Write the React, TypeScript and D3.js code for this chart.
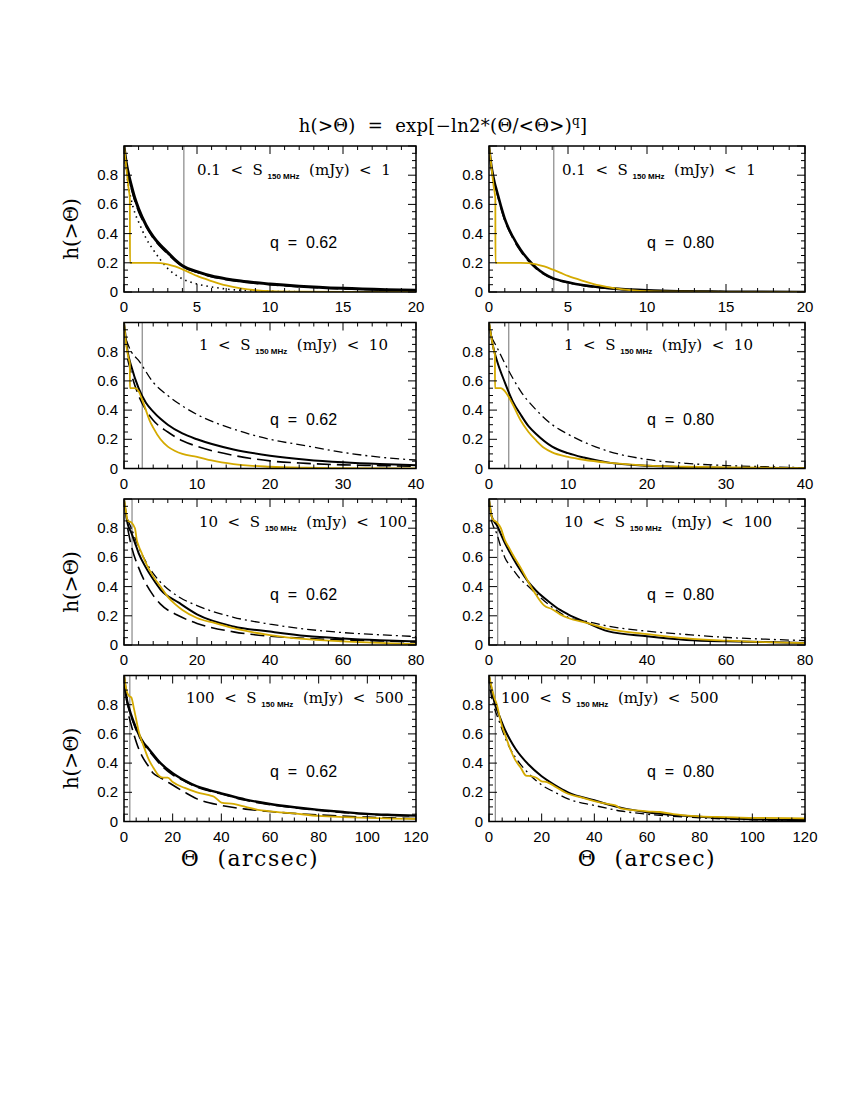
import React from 'react';
import * as d3 from 'd3';

// ---- data ----
// row 1 : 0.1 < S < 1 mJy
const r1Yellow = [[0,1],[0.15,0.86],[0.3,0.72],[0.4,0.64],[0.41,0.2],[1,0.2],[2,0.2],[2.5,0.198],[3,0.19],[3.5,0.175],[4,0.155],[4.5,0.133],[5,0.11],[6,0.075],[7,0.045],[8,0.025],[9,0.012],[10,0.005],[12,0.002],[20,0]];
const r1LSolid = [[0,1],[0.1,0.92],[0.2,0.86],[0.35,0.79],[0.5,0.73],[0.75,0.64],[1,0.57],[1.5,0.46],[2,0.38],[2.5,0.32],[3,0.27],[3.5,0.22],[4,0.18],[5,0.14],[6,0.11],[7,0.09],[8,0.075],[10,0.055],[12,0.04],[15,0.025],[18,0.016],[20,0.012]];
const r1LDash = [[0,0.98],[0.2,0.84],[0.5,0.71],[1,0.55],[1.5,0.45],[2,0.37],[3,0.26],[4,0.175],[5,0.135],[6,0.105],[8,0.07],[10,0.05],[12,0.036],[15,0.022],[20,0.01]];
const r1LDot = [[0,1],[0.1,0.88],[0.2,0.8],[0.35,0.7],[0.5,0.63],[0.75,0.54],[1,0.48],[1.5,0.37],[2,0.29],[2.5,0.22],[3,0.16],[3.5,0.12],[4,0.09],[5,0.055],[6,0.035],[7,0.02],[8,0.012],[10,0.005],[12,0.002],[15,0.001],[20,0]];
const r1RSolid = [[0,1],[0.1,0.9],[0.2,0.83],[0.35,0.75],[0.5,0.69],[0.75,0.59],[1,0.5],[1.5,0.38],[2,0.29],[2.5,0.22],[3,0.165],[3.5,0.125],[4,0.097],[5,0.067],[6,0.046],[7,0.033],[8,0.023],[10,0.011],[12,0.005],[15,0.002],[20,0]];
const r1RDash = [[0,0.99],[0.2,0.82],[0.5,0.68],[1,0.49],[1.5,0.37],[2,0.28],[3,0.158],[4,0.092],[5,0.063],[6,0.043],[8,0.021],[10,0.01],[15,0.002],[20,0]];

// row 2 : 1 < S < 10 mJy
const r2LSolid = [[0,1],[0.5,0.8],[1,0.7],[2,0.55],[3,0.45],[4,0.39],[5,0.34],[6,0.3],[8,0.24],[10,0.2],[15,0.13],[20,0.088],[25,0.06],[30,0.042],[35,0.03],[40,0.022]];
const r2LDash = [[0.5,0.75],[1,0.65],[2,0.5],[3,0.4],[4,0.33],[6,0.25],[8,0.19],[10,0.152],[15,0.09],[20,0.052],[25,0.035],[30,0.025],[35,0.02],[40,0.015]];
const r2LDotDash = [[0.3,0.88],[1,0.8],[2,0.74],[4,0.59],[6,0.5],[10,0.37],[15,0.27],[20,0.2],[25,0.155],[30,0.11],[35,0.078],[40,0.058]];
const r2LYellow = [[0,1],[0.3,0.85],[0.6,0.76],[0.8,0.72],[0.81,0.55],[1.5,0.55],[2,0.53],[2.5,0.47],[3,0.4],[3.5,0.33],[4,0.28],[5,0.2],[6,0.15],[7,0.12],[8,0.1],[10,0.08],[12,0.055],[15,0.03],[20,0.012],[25,0.005],[30,0.002],[40,0]];
const r2RSolid = [[0,1],[0.3,0.9],[0.5,0.84],[1,0.74],[2,0.59],[3,0.46],[4,0.37],[5,0.29],[6,0.235],[8,0.15],[10,0.105],[12,0.075],[15,0.042],[20,0.018],[25,0.009],[30,0.004],[40,0]];
const r2RDotDash = [[0.3,0.9],[1,0.83],[2,0.72],[3,0.62],[4,0.53],[6,0.4],[8,0.3],[10,0.235],[15,0.12],[20,0.062],[25,0.035],[30,0.02],[35,0.012],[40,0.005]];
const r2RYellow = [[0,1],[0.3,0.9],[0.7,0.79],[0.75,0.78],[0.76,0.55],[1.5,0.55],[2,0.53],[2.5,0.49],[3,0.44],[4,0.33],[5,0.25],[6,0.19],[7,0.14],[8,0.11],[10,0.08],[12,0.06],[15,0.04],[20,0.02],[25,0.012],[30,0.008],[40,0.003]];

// row 3 : 10 < S < 100 mJy
const r3LSolid = [[0,1],[0.5,0.9],[1,0.83],[2,0.77],[3,0.7],[4,0.63],[6,0.53],[8,0.45],[10,0.38],[15,0.29],[20,0.21],[30,0.127],[40,0.092],[50,0.062],[60,0.045],[70,0.033],[80,0.025]];
const r3LDash = [[1,0.8],[2,0.68],[4,0.53],[6,0.42],[8,0.34],[10,0.28],[15,0.2],[20,0.148],[30,0.09],[40,0.06],[50,0.045],[60,0.035],[70,0.028],[80,0.02]];
const r3LDotDash = [[1,0.86],[2,0.8],[4,0.67],[6,0.57],[8,0.49],[10,0.43],[15,0.33],[20,0.27],[30,0.19],[40,0.143],[50,0.108],[60,0.085],[70,0.07],[80,0.058]];
const r3LYellow = [[0,1],[0.5,0.92],[1,0.85],[2,0.84],[3,0.8],[3.5,0.72],[4,0.68],[5,0.62],[6,0.56],[8,0.47],[10,0.4],[12,0.33],[14,0.28],[16,0.24],[20,0.185],[25,0.15],[30,0.115],[40,0.068],[50,0.04],[60,0.025],[70,0.015],[80,0.005]];
const r3RSolid = [[0,1],[0.5,0.9],[1,0.86],[2,0.82],[3,0.76],[4,0.7],[6,0.6],[8,0.51],[10,0.43],[12,0.37],[15,0.3],[18,0.24],[20,0.21],[25,0.15],[30,0.095],[40,0.06],[50,0.035],[60,0.025],[70,0.02],[80,0.013]];
const r3RDotDash = [[0.5,0.86],[1,0.82],[2,0.76],[3,0.67],[4,0.6],[6,0.52],[8,0.45],[10,0.4],[12,0.35],[15,0.28],[20,0.19],[25,0.16],[30,0.13],[40,0.095],[50,0.072],[60,0.052],[70,0.04],[80,0.03]];
const r3RYellow = [[0,1],[0.5,0.9],[1,0.86],[2,0.84],[3,0.8],[4,0.72],[5,0.67],[6,0.62],[8,0.53],[10,0.43],[12,0.34],[14,0.27],[16,0.245],[18,0.21],[20,0.185],[25,0.15],[30,0.11],[40,0.075],[50,0.045],[60,0.03],[70,0.02],[80,0.013]];

// row 4 : 100 < S < 500 mJy
const r4LSolid = [[0,1],[1,0.85],[2,0.78],[4,0.68],[6,0.6],[8,0.54],[10,0.5],[15,0.4],[20,0.33],[25,0.28],[30,0.24],[35,0.215],[40,0.193],[50,0.15],[60,0.12],[70,0.098],[80,0.08],[90,0.065],[100,0.052],[110,0.045],[120,0.04]];
const r4LDash = [[0,0.98],[1,0.84],[2,0.77],[4,0.67],[6,0.59],[8,0.53],[10,0.49],[15,0.39],[20,0.32],[25,0.275],[30,0.235],[40,0.188],[50,0.145],[60,0.115],[70,0.094],[80,0.076],[100,0.05],[120,0.036]];
const r4LLower = [[2,0.72],[4,0.6],[6,0.5],[8,0.43],[10,0.38],[12,0.33],[15,0.3],[20,0.25],[25,0.2],[30,0.155],[40,0.11],[50,0.085],[60,0.068],[80,0.045],[100,0.03],[120,0.02]];
const r4LYellow = [[0,1],[1,0.9],[2,0.86],[3,0.85],[4,0.78],[5,0.7],[6,0.62],[8,0.52],[10,0.43],[12,0.37],[14,0.32],[16,0.3],[18,0.3],[20,0.27],[25,0.23],[30,0.2],[35,0.18],[37,0.17],[40,0.13],[45,0.12],[50,0.1],[55,0.08],[60,0.07],[70,0.055],[80,0.038],[90,0.03],[100,0.025],[110,0.02],[120,0.018]];
const r4RSolid = [[0,1],[2,0.82],[4,0.72],[6,0.63],[8,0.56],[10,0.5],[15,0.39],[20,0.31],[25,0.25],[30,0.2],[40,0.145],[50,0.095],[60,0.064],[70,0.045],[80,0.032],[90,0.022],[100,0.016],[120,0.01]];
const r4RDotDash = [[0.5,0.9],[1,0.85],[2,0.78],[4,0.68],[6,0.58],[8,0.5],[10,0.44],[15,0.33],[20,0.25],[25,0.2],[30,0.155],[40,0.11],[50,0.072],[60,0.05],[80,0.025],[100,0.012],[120,0.005]];
const r4RYellow = [[0,1],[1,0.92],[2,0.85],[3,0.8],[4,0.72],[5,0.65],[6,0.6],[8,0.5],[10,0.42],[12,0.37],[14,0.315],[16,0.31],[18,0.3],[20,0.275],[22,0.27],[25,0.24],[30,0.19],[35,0.165],[40,0.14],[45,0.12],[48,0.11],[50,0.09],[60,0.07],[65,0.065],[70,0.05],[80,0.035],[90,0.03],[100,0.025],[120,0.022]];

const rangeLo = ['0.1', '1', '10', '100'];
const rangeHi = ['1', '10', '100', '500'];
const xMaxes = [20, 40, 80, 120];
const xMajor = [5, 10, 20, 20];
const xMinor = [1, 2, 4, 5];
const vLines = [4.1, 2.5, 2.2, 2.4];
const qLabels = ['0.62', '0.80'];

const GOLD = '#d4aa00';
const TXT = '"DejaVu Serif", serif';
const NUM = '"Liberation Sans", Arial, sans-serif';

type Curve = { pts: number[][]; color: string; width: number; dash?: string };

const solid = (pts: number[][], w = 2): Curve => ({ pts, color: '#000', width: w });
const dashed = (pts: number[][]): Curve => ({ pts, color: '#000', width: 1.6, dash: '14,6' });
const dotdash = (pts: number[][]): Curve => ({ pts, color: '#000', width: 1.3, dash: '9,4,2,4' });
const dotted = (pts: number[][]): Curve => ({ pts, color: '#000', width: 1.6, dash: '1.5,4' });
const gold = (pts: number[][]): Curve => ({ pts, color: GOLD, width: 1.8 });

const curves: Curve[][][] = [
  [
    [solid(r1LSolid, 3), dashed(r1LDash), dotted(r1LDot), gold(r1Yellow)],
    [solid(r1RSolid, 2.6), dashed(r1RDash), gold(r1Yellow)],
  ],
  [
    [solid(r2LSolid), dashed(r2LDash), dotdash(r2LDotDash), gold(r2LYellow)],
    [solid(r2RSolid), dotdash(r2RDotDash), gold(r2RYellow)],
  ],
  [
    [solid(r3LSolid), dashed(r3LDash), dotdash(r3LDotDash), gold(r3LYellow)],
    [solid(r3RSolid), dotdash(r3RDotDash), gold(r3RYellow)],
  ],
  [
    [solid(r4LSolid, 2.4), dashed(r4LDash), dashed(r4LLower), gold(r4LYellow)],
    [solid(r4RSolid), dotdash(r4RDotDash), gold(r4RYellow)],
  ],
];

const COLS = [{ x0: 124, w: 292 }, { x0: 489, w: 316 }];
const ROW_TOP = [146, 322.5, 499, 675.5];
const PH = 146;

function Panel({ row, col }: { row: number; col: number }) {
  const { x0, w } = COLS[col];
  const y0 = ROW_TOP[row];
  const x = d3.scaleLinear().domain([0, xMaxes[row]]).range([x0, x0 + w]);
  const y = d3.scaleLinear().domain([0, 1]).range([y0 + PH, y0]);
  const line = d3.line<number[]>().x(d => x(d[0])).y(d => y(d[1])).curve(d3.curveMonotoneX);
  const clipId = `clip-${row}-${col}`;

  const xMajTicks = d3.range(0, xMaxes[row] + 1e-9, xMajor[row]);
  const xMinTicks = d3.range(0, xMaxes[row] + 1e-9, xMinor[row]).filter(v => Math.abs(v / xMajor[row] - Math.round(v / xMajor[row])) > 1e-6);
  const yMajTicks = d3.range(0, 1.0001, 0.2);
  const yMinTicks = d3.range(0, 1.0001, 0.05).filter(v => Math.abs(v / 0.2 - Math.round(v / 0.2)) > 1e-6);
  const yLabels = [0, 0.2, 0.4, 0.6, 0.8];

  const textX = col === 1 && row === 3 ? x0 + 12 : row === 3 ? x0 + 62 : row === 0 ? x0 + 73 : x0 + 75;
  const textY = y0 + [29, 27.5, 28, 27.5][row];

  return (
    <g>
      <defs>
        <clipPath id={clipId}>
          <rect x={x0} y={y0} width={w} height={PH} />
        </clipPath>
      </defs>
      <g clipPath={`url(#${clipId})`}>
        <line x1={x(vLines[row])} x2={x(vLines[row])} y1={y0} y2={y0 + PH} stroke="#888" strokeWidth={1.2} />
        {curves[row][col].map((c, i) => (
          <path key={i} d={line(c.pts) || ''} fill="none" stroke={c.color} strokeWidth={c.width}
            strokeDasharray={c.dash} strokeLinejoin="round" />
        ))}
      </g>
      {/* ticks, inward on all four sides */}
      {xMajTicks.map(v => (
        <g key={'xM' + v}>
          <line x1={x(v)} x2={x(v)} y1={y0 + PH} y2={y0 + PH - 8} stroke="#000" />
          <line x1={x(v)} x2={x(v)} y1={y0} y2={y0 + 8} stroke="#000" />
        </g>
      ))}
      {xMinTicks.map(v => (
        <g key={'xm' + v}>
          <line x1={x(v)} x2={x(v)} y1={y0 + PH} y2={y0 + PH - 4} stroke="#000" />
          <line x1={x(v)} x2={x(v)} y1={y0} y2={y0 + 4} stroke="#000" />
        </g>
      ))}
      {yMajTicks.map(v => (
        <g key={'yM' + v}>
          <line x1={x0} x2={x0 + 8} y1={y(v)} y2={y(v)} stroke="#000" />
          <line x1={x0 + w} x2={x0 + w - 8} y1={y(v)} y2={y(v)} stroke="#000" />
        </g>
      ))}
      {yMinTicks.map(v => (
        <g key={'ym' + v}>
          <line x1={x0} x2={x0 + 4} y1={y(v)} y2={y(v)} stroke="#000" />
          <line x1={x0 + w} x2={x0 + w - 4} y1={y(v)} y2={y(v)} stroke="#000" />
        </g>
      ))}
      <rect x={x0} y={y0} width={w} height={PH} fill="none" stroke="#000" strokeWidth={1.5} />
      {xMajTicks.map(v => (
        <text key={'xl' + v} x={x(v)} y={y0 + PH + 20} textAnchor="middle" fontFamily={NUM} fontSize={15}>{v}</text>
      ))}
      {yLabels.map(v => (
        <text key={'yl' + v} x={x0 - 6} y={y(v) + 5} textAnchor="end" fontFamily={NUM} fontSize={15}>{v === 0 ? '0' : v.toFixed(1)}</text>
      ))}
      <text x={textX} y={textY} fontFamily={TXT} fontSize={15} style={{ whiteSpace: 'pre' }}>
        <tspan>{`${rangeLo[row]}  <  S `}</tspan>
        <tspan dy={4} fontSize={8} fontWeight="bold" fontFamily={NUM}>150 MHz</tspan>
        <tspan dy={-4}>{`  (mJy)  <  ${rangeHi[row]}`}</tspan>
      </text>
      <text x={x0 + (col === 0 ? 146 : 158)} y={y0 + [102, 102.5, 101, 101.5][row]} fontFamily={NUM} fontSize={16} style={{ whiteSpace: 'pre' }}>
        {`q  =  ${qLabels[col]}`}
      </text>
    </g>
  );
}

export default function App() {
  const rows = [0, 1, 2, 3];
  return (
    <svg width={850} height={1100} style={{ display: 'block', position: 'absolute', left: 0, top: 0, background: '#fff' }}>
      <rect width={850} height={1100} fill="#fff" />
      <text x={443} y={132} textAnchor="middle" fontFamily={TXT} fontSize={18} letterSpacing={0.3} style={{ whiteSpace: 'pre' }}>
        <tspan>{'h(>Θ)  =  exp[−ln2*(Θ/<Θ>)'}</tspan>
        <tspan dy={-7} fontSize={12}>q</tspan>
        <tspan dy={7}>]</tspan>
      </text>
      {rows.map(r => (
        <g key={r}>
          <Panel row={r} col={0} />
          <Panel row={r} col={1} />
        </g>
      ))}
      {[0, 2, 3].map(r => (
        <text key={'yt' + r} transform={`translate(78,${ROW_TOP[r] + PH / 2 + 10}) rotate(-90)`} textAnchor="middle"
          fontFamily={TXT} fontSize={20}>h(&gt;Θ)</text>
      ))}
      <text x={250} y={866} textAnchor="middle" fontFamily={TXT} fontSize={22} letterSpacing={1.5} style={{ whiteSpace: 'pre' }}>Θ  (arcsec)</text>
      <text x={647} y={866} textAnchor="middle" fontFamily={TXT} fontSize={22} letterSpacing={1.5} style={{ whiteSpace: 'pre' }}>Θ  (arcsec)</text>
    </svg>
  );
}
